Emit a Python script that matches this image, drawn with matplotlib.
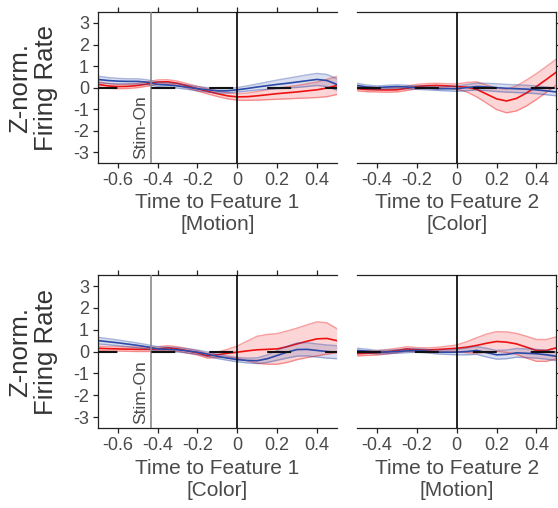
import numpy as np
import matplotlib
matplotlib.use("Agg")
import matplotlib.pyplot as plt

plt.rcParams['font.family'] = ['Liberation Sans', 'DejaVu Sans']

# time axes (s)
t_f1 = [-0.70, -0.65, -0.60, -0.55, -0.50, -0.45, -0.40, -0.35, -0.30, -0.25, -0.20, -0.15,
        -0.10, -0.05, 0.00, 0.05, 0.10, 0.15, 0.20, 0.25, 0.30, 0.35, 0.40, 0.45, 0.50]
t_f2 = [-0.50, -0.45, -0.40, -0.35, -0.30, -0.25, -0.20, -0.15, -0.10, -0.05, 0.00,
        0.05, 0.10, 0.15, 0.20, 0.25, 0.30, 0.35, 0.40, 0.45, 0.50]

# top row, feature 1 = motion
tl_red = [0.15, 0.08, 0.05, 0.06, 0.10, 0.17, 0.26, 0.27, 0.20, 0.08, -0.05, -0.17, -0.28,
          -0.38, -0.43, -0.42, -0.38, -0.33, -0.28, -0.24, -0.20, -0.15, -0.10, -0.02, 0.10]
tl_red_sem = [0.12, 0.11, 0.10, 0.10, 0.10, 0.10, 0.10, 0.10, 0.10, 0.10, 0.11, 0.12, 0.13,
              0.14, 0.15, 0.17, 0.20, 0.23, 0.26, 0.28, 0.30, 0.33, 0.36, 0.40, 0.42]
tl_blue = [0.38, 0.33, 0.30, 0.29, 0.29, 0.25, 0.15, 0.12, 0.08, 0.02, -0.05, -0.10, -0.15,
           -0.15, -0.10, -0.04, 0.03, 0.09, 0.15, 0.20, 0.26, 0.32, 0.38, 0.33, 0.15]
tl_blue_sem = [0.15, 0.14, 0.13, 0.12, 0.12, 0.11, 0.10, 0.10, 0.10, 0.10, 0.10, 0.10, 0.10,
               0.10, 0.10, 0.12, 0.14, 0.17, 0.20, 0.23, 0.25, 0.27, 0.28, 0.28, 0.27]

# top row, feature 2 = color
tr_red = [-0.05, -0.09, -0.10, -0.11, -0.10, -0.03, 0.05, 0.09, 0.10, 0.08, 0.05,
          0.02, -0.08, -0.30, -0.52, -0.62, -0.50, -0.25, 0.05, 0.38, 0.72]
tr_red_sem = [0.10, 0.10, 0.10, 0.10, 0.10, 0.10, 0.10, 0.10, 0.10, 0.10, 0.12,
              0.22, 0.35, 0.42, 0.50, 0.55, 0.58, 0.60, 0.60, 0.60, 0.60]
tr_blue = [0.10, 0.03, 0.00, 0.03, 0.05, 0.03, 0.00, -0.02, -0.05, -0.05, -0.05,
           0.00, 0.05, 0.03, 0.00, -0.03, -0.05, -0.07, -0.10, -0.15, -0.20]
tr_blue_sem = [0.10, 0.09, 0.08, 0.08, 0.08, 0.08, 0.08, 0.08, 0.08, 0.10, 0.12,
               0.14, 0.16, 0.17, 0.18, 0.18, 0.18, 0.18, 0.18, 0.18, 0.18]

# bottom row, feature 1 = color
bl_red = [0.15, 0.13, 0.12, 0.11, 0.10, 0.10, 0.12, 0.17, 0.12, 0.03, -0.06, -0.20, -0.15,
          -0.08, -0.03, 0.03, 0.08, 0.10, 0.12, 0.22, 0.35, 0.47, 0.58, 0.60, 0.50]
bl_red_sem = [0.10, 0.10, 0.10, 0.10, 0.10, 0.10, 0.10, 0.10, 0.10, 0.10, 0.10, 0.10, 0.12,
              0.18, 0.28, 0.45, 0.62, 0.68, 0.70, 0.72, 0.72, 0.75, 0.78, 0.72, 0.55]
bl_blue = [0.50, 0.45, 0.40, 0.34, 0.28, 0.21, 0.12, 0.10, 0.08, 0.03, -0.03, -0.12, -0.22,
           -0.30, -0.37, -0.41, -0.42, -0.33, -0.18, -0.03, 0.09, 0.10, 0.05, 0.00, -0.03]
bl_blue_sem = [0.15, 0.14, 0.13, 0.12, 0.11, 0.10, 0.10, 0.10, 0.10, 0.10, 0.10, 0.10, 0.10,
               0.10, 0.10, 0.11, 0.13, 0.17, 0.22, 0.27, 0.30, 0.30, 0.30, 0.30, 0.30]

# bottom row, feature 2 = motion
br_red = [-0.10, -0.08, -0.06, -0.01, 0.05, 0.12, 0.08, 0.07, 0.09, 0.12, 0.15,
          0.20, 0.28, 0.38, 0.46, 0.43, 0.35, 0.20, 0.05, 0.05, 0.17]
br_red_sem = [0.10, 0.10, 0.10, 0.10, 0.10, 0.10, 0.10, 0.10, 0.10, 0.12, 0.15,
              0.25, 0.35, 0.42, 0.45, 0.47, 0.48, 0.50, 0.50, 0.50, 0.50]
br_blue = [0.05, 0.02, -0.03, -0.02, 0.00, 0.03, 0.05, 0.02, -0.03, -0.03, -0.03,
           0.00, 0.05, -0.05, -0.15, -0.13, -0.06, -0.08, -0.10, -0.15, -0.22]
br_blue_sem = [0.10, 0.09, 0.08, 0.08, 0.08, 0.08, 0.08, 0.08, 0.08, 0.10, 0.12,
               0.15, 0.18, 0.20, 0.20, 0.20, 0.20, 0.20, 0.20, 0.20, 0.20]

stim_on = -0.435
yticks = [-3, -2, -1, 0, 1, 2, 3]
xlabels = ["Time to Feature 1\n[Motion]", "Time to Feature 2\n[Color]",
           "Time to Feature 1\n[Color]", "Time to Feature 2\n[Motion]"]

RED = '#ee1111'
BLUE = '#2c4aa8'
TXT = '#4a4a4a'

fig = plt.figure(figsize=(5.58, 5.08), dpi=100)

def trace(ax, t, m, s, col):
    t = np.array(t); m = np.array(m); s = np.array(s)
    ax.fill_between(t, m - s, m + s, color=col, alpha=0.17, lw=0)
    ax.plot(t, m - s, color=col, alpha=0.4, lw=1.0)
    ax.plot(t, m + s, color=col, alpha=0.4, lw=1.0)
    ax.plot(t, m, color=col, lw=1.2)

panels = [
    ([0.1756, 0.679, 0.428, 0.297], t_f1, tl_red, tl_red_sem, tl_blue, tl_blue_sem, True),
    ([0.640, 0.679, 0.357, 0.297], t_f2, tr_red, tr_red_sem, tr_blue, tr_blue_sem, False),
    ([0.1756, 0.1575, 0.428, 0.301], t_f1, bl_red, bl_red_sem, bl_blue, bl_blue_sem, True),
    ([0.640, 0.1575, 0.357, 0.301], t_f2, br_red, br_red_sem, br_blue, br_blue_sem, False),
]

for i, (pos, t, rm, rs, bm, bs, left) in enumerate(panels):
    ax = fig.add_axes(pos)
    trace(ax, t, rm, rs, RED)
    trace(ax, t, bm, bs, BLUE)
    ax.axvline(0, color='k', lw=1.2, zorder=5)
    off = 2.2 if left else 0.0
    ax.axhline(0, color='#111111', lw=1.5, linestyle=(off, (11.5, 16.3)), zorder=6)
    ax.set_xlim(t[0], t[-1])
    ax.set_ylim(-3.5, 3.5)
    ax.set_yticks(yticks)
    if left:
        ax.set_xticks([-0.6, -0.4, -0.2, 0, 0.2, 0.4])
        ax.set_xticklabels(['-0.6', '-0.4', '-0.2', '0', '0.2', '0.4'])
        ax.set_yticklabels([str(v) for v in yticks])
        ax.spines['right'].set_visible(False)
        ax.tick_params(axis='x', top=True)
        ax.tick_params(axis='y', left=True, right=False)
        ax.axvline(stim_on, color='#8a8a8a', lw=1.2, zorder=4)
        ax.text(stim_on - 0.012, -3.33, 'Stim-On', rotation=90, ha='right', va='bottom',
                fontsize=12.5, color=TXT)
        ax.xaxis.set_label_coords(0.567, -0.2)
    else:
        ax.set_xticks([-0.4, -0.2, 0, 0.2, 0.4])
        ax.set_xticklabels(['-0.4', '-0.2', '0', '0.2', '0.4'])
        ax.spines['left'].set_visible(False)
        ax.tick_params(axis='y', left=False, right=True, labelleft=False)
        ax.xaxis.set_label_coords(0.548, -0.2)
    ax.tick_params(direction='out', length=3.5, width=0.9, labelsize=13, colors='#222222',
                   labelcolor=TXT, pad=3)
    for sp in ax.spines.values():
        sp.set_linewidth(0.9)
        sp.set_color('#222222')
    ax.set_xlabel(xlabels[i], fontsize=15, color=TXT, va='top', linespacing=1.2)

for yc in [1 - 88 / 508, 1 - 352 / 508]:
    fig.text(33 / 558, yc, "Z-norm.\nFiring Rate", rotation=90, ha='center', va='center',
             fontsize=18.5, color='#333333', linespacing=1.1, multialignment='center')

fig.savefig('out.png', dpi=100)
